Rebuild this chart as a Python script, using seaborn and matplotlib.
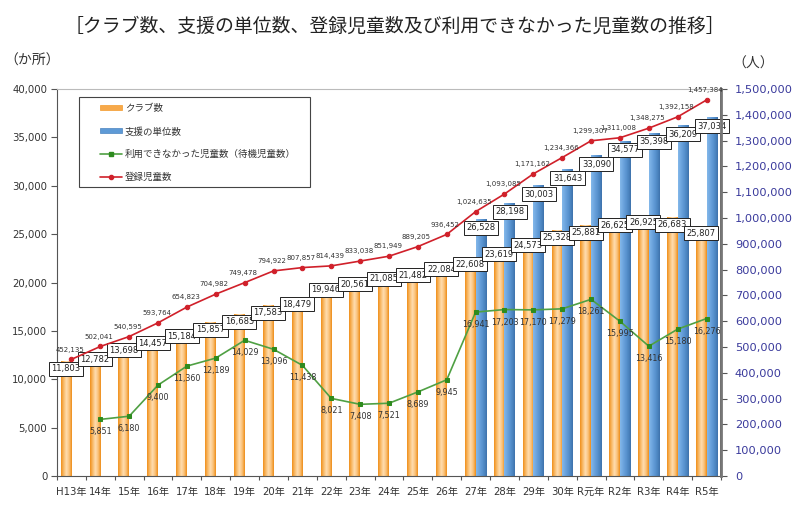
import numpy as np
import pandas as pd
import matplotlib
matplotlib.use("Agg")
import matplotlib.pyplot as plt
import seaborn as sns
from matplotlib.ticker import FuncFormatter, MultipleLocator, FixedLocator
from matplotlib.colors import to_rgb
from matplotlib.lines import Line2D
from matplotlib.patches import Patch, Rectangle

# ---------------- data ----------------
years = ['H13年', '14年', '15年', '16年', '17年', '18年', '19年', '20年', '21年',
         '22年', '23年', '24年', '25年', '26年', '27年', '28年', '29年', '30年',
         'R元年', 'R2年', 'R3年', 'R4年', 'R5年']
clubs = [11803, 12782, 13698, 14457, 15184, 15857, 16685, 17583, 18479, 19946,
         20561, 21085, 21482, 22084, 22608, 23619, 24573, 25328, 25881, 26625,
         26925, 26683, 25807]
unit_years = ['27年', '28年', '29年', '30年', 'R元年', 'R2年', 'R3年', 'R4年', 'R5年']
units = [26528, 28198, 30003, 31643, 33090, 34577, 35398, 36209, 37034]
registered = [452135, 502041, 540595, 593764, 654823, 704982, 749478, 794922,
              807857, 814439, 833038, 851949, 889205, 936452, 1024635, 1093085,
              1171162, 1234366, 1299307, 1311008, 1348275, 1392158, 1457384]
waiting_years = years[1:]
waiting = [5851, 6180, 9400, 11360, 12189, 14029, 13096, 11438, 8021, 7408, 7521,
           8689, 9945, 16941, 17203, 17170, 17279, 18261, 15995, 13416, 15180, 16276]

series_names = ['クラブ数', '支援の単位数', '利用できなかった児童数（待機児童数）', '登録児童数']

title = '［クラブ数、支援の単位数、登録児童数及び利用できなかった児童数の推移］'

# ---------------- style ----------------
sns.set_theme(style='white')
plt.rcParams['font.family'] = ['DejaVu Sans', 'Noto Sans CJK JP']

W, H = 800, 511
fig = plt.figure(figsize=(W / 100, H / 100), dpi=100)
AX_L, AX_R, AX_T, AX_B = 57, 721, 89, 476
ax = fig.add_axes([AX_L / W, 1 - AX_B / H, (AX_R - AX_L) / W, (AX_B - AX_T) / H])

bar_df = pd.concat([
    pd.DataFrame({'年': years, '値': clubs, '系列': series_names[0]}),
    pd.DataFrame({'年': unit_years, '値': units, '系列': series_names[1]}),
], ignore_index=True)

orange_mid = '#F7A94A'
blue_mid = '#5E9AD6'
sns.barplot(data=bar_df, x='年', y='値', hue='系列', order=years,
            hue_order=series_names[:2], palette=[orange_mid, blue_mid],
            width=0.74, dodge=True, legend=False, ax=ax, saturation=1,
            linewidth=0, zorder=2)


def grad(colors, n=40):
    stops = np.linspace(0, 1, len(colors))
    xs = np.linspace(0, 1, n)
    rgb = np.array([to_rgb(c) for c in colors])
    arr = np.stack([np.interp(xs, stops, rgb[:, k]) for k in range(3)], axis=-1)
    return arr[np.newaxis, :, :]


orange_grad = grad(['#F0901C', '#F9BB6A', '#FFDDB0', '#FAC27A', '#EE8E1A'])
blue_grad = grad(['#84B8EA', '#70A8E0', '#5E98D4', '#4E88C4', '#3E72AC'])

club_pos = {}
unit_pos = {}
for ci, container in enumerate(ax.containers):
    g = orange_grad if ci == 0 else blue_grad
    for bar in container:
        h = bar.get_height()
        if not np.isfinite(h) or h <= 0:
            continue
        x0 = bar.get_x()
        w = bar.get_width()
        ax.imshow(g, extent=[x0, x0 + w, 0, h], aspect='auto', zorder=2.1,
                  interpolation='bilinear')
        if ci == 0:
            club_pos[int(round(x0 + w / 2))] = (x0 + w / 2, h)
        else:
            unit_pos[int(round(x0 + w / 2))] = (x0 + w / 2, h)

pos = np.arange(len(years))

# waiting children on left axis
sns.lineplot(x=pos[1:], y=waiting, ax=ax, color='#4FA043', linewidth=1.2,
             marker='s', markersize=3.5, markerfacecolor='#2E8B1E',
             markeredgecolor='#2E8B1E', zorder=4)

ax.set_xlim(-0.5, len(years) - 0.5)
ax.set_ylim(0, 40000)
ax.yaxis.set_major_locator(MultipleLocator(5000))
ax.yaxis.set_major_formatter(FuncFormatter(lambda v, p: f'{int(v):,}'))
ax.set_xlabel('')
ax.set_ylabel('')
ax.set_xticks(pos)
ax.set_xticklabels(years)
ax.xaxis.set_minor_locator(FixedLocator(np.arange(-0.5, len(years), 1.0)))
ax.tick_params(axis='x', which='major', length=0, pad=8, labelsize=7.3,
               labelcolor='#333333')
ax.tick_params(axis='x', which='minor', bottom=True, length=3, width=0.8,
               color='#555555', direction='out')
ax.tick_params(axis='y', left=True, length=4, width=0.8, color='#555555',
               labelsize=7.3, labelcolor='#333333', pad=3)
for s in ['top', 'left', 'bottom', 'right']:
    ax.spines[s].set_visible(True)
ax.spines['top'].set_color('#BBBBBB')
ax.spines['top'].set_linewidth(0.8)
ax.spines['left'].set_color('#555555')
ax.spines['left'].set_linewidth(0.8)
ax.spines['bottom'].set_color('#555555')
ax.spines['bottom'].set_linewidth(0.8)

# bar value labels (boxed)
box = dict(boxstyle='square,pad=0.3', fc='white', ec='#222222', lw=0.7)
for i, v in enumerate(clubs):
    xc, h = club_pos[i]
    ax.annotate(f'{v:,}', xy=(xc, h), xytext=(0, -5), textcoords='offset points',
                ha='center', va='center', fontsize=6.0, color='#222222',
                bbox=box, zorder=6)
for yr, v in zip(unit_years, units):
    i = years.index(yr)
    xc, h = unit_pos[i]
    ax.annotate(f'{v:,}', xy=(xc, h), xytext=(0, -6), textcoords='offset points',
                ha='center', va='center', fontsize=6.0, color='#222222',
                bbox=box, zorder=6)
for x, v in zip(pos[1:], waiting):
    ax.annotate(f'{v:,}', xy=(x, v), xytext=(0, -9), textcoords='offset points',
                ha='center', va='center', fontsize=5.8, color='#333333', zorder=6)

# registered children on right axis
ax2 = ax.twinx()
sns.lineplot(x=pos, y=registered, ax=ax2, color='#D0202A', linewidth=1.2,
             marker='o', markersize=3.2, markerfacecolor='#D0202A',
             markeredgecolor='#D0202A', zorder=5)
ax2.set_ylim(0, 1500000)
ax2.yaxis.set_major_locator(MultipleLocator(100000))
ax2.yaxis.set_major_formatter(FuncFormatter(lambda v, p: f'{int(v):,}'))
ax2.tick_params(axis='y', right=True, length=4, width=0.8, color='#555555',
                labelsize=8.2, labelcolor='#3A3A9C', pad=6)
ax2.set_ylabel('')
ax2.spines['right'].set_color('#777777')
ax2.spines['right'].set_linewidth(2.0)
for s in ['top', 'left', 'bottom']:
    ax2.spines[s].set_visible(False)
for x, v in zip(pos, registered):
    ax2.annotate(f'{v:,}', xy=(x, v), xytext=(-1, 7), textcoords='offset points',
                 ha='center', va='center', fontsize=5.0, color='#333333', zorder=6)

# legend
def ax_coords(px, py):
    return ((px - AX_L) / (AX_R - AX_L), (AX_B - py) / (AX_B - AX_T))

lx0, ly0 = ax_coords(79, 187)
lx1, ly1 = ax_coords(310, 97)
frame = Rectangle((lx0, ly0), lx1 - lx0, ly1 - ly0, transform=ax2.transAxes,
                  facecolor='white', edgecolor='#444444', lw=0.8, zorder=9)
ax2.add_patch(frame)

handles = [
    Patch(facecolor='#F7A94A', edgecolor='#F39A2A', lw=0.5),
    Patch(facecolor='#5E9AD6', edgecolor='#4A83C0', lw=0.5),
    Line2D([0], [0], color='#4FA043', lw=1.2, marker='s', markersize=3,
           markerfacecolor='#2E8B1E', markeredgecolor='#2E8B1E'),
    Line2D([0], [0], color='#D0202A', lw=1.2, marker='o', markersize=3,
           markerfacecolor='#D0202A', markeredgecolor='#D0202A'),
]
ancx, ancy = ax_coords(100, 104)
leg = ax2.legend(handles, series_names, loc='upper left',
                 bbox_to_anchor=(ancx, ancy), borderaxespad=0, borderpad=0,
                 frameon=False, handlelength=2.3, handleheight=0.45,
                 labelspacing=1.42, handletextpad=0.35,
                 prop={'family': ['Noto Sans CJK JP'], 'size': 6.8})
leg.set_zorder(10)
for t in leg.get_texts():
    t.set_color('#333333')

# titles / units
fig.text(0.493, 0.948, title, ha='center', va='center', fontsize=13.6,
         family=['Noto Sans CJK JP', 'DejaVu Sans'], color='#222222')
fig.text(0.006, 0.882, '（か所）', ha='left', va='center', fontsize=10,
         family=['Noto Sans CJK JP'], color='#333333')
fig.text(0.916, 0.876, '（人）', ha='left', va='center', fontsize=10,
         family=['Noto Sans CJK JP'], color='#333333')

fig.savefig('out.png', dpi=100)
